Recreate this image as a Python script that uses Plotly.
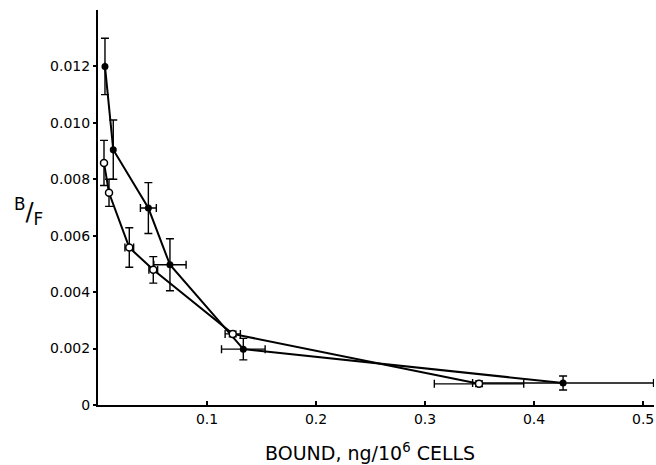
import plotly.graph_objects as go

# Closed circles series
closed_x = [0.0064, 0.014, 0.0462, 0.066, 0.1333, 0.4266]
closed_y = [0.0120, 0.00905, 0.00698, 0.00497, 0.00198, 0.00078]
closed_xerr = [0.0, 0.0, 0.0073, 0.0148, 0.020, 0.083]
closed_yerr = [0.0010, 0.00105, 0.0009, 0.00092, 0.00038, 0.00025]

# Open circles series
open_x = [0.0055, 0.0101, 0.0287, 0.0507, 0.1236, 0.3495]
open_y = [0.00858, 0.00752, 0.00558, 0.00479, 0.00252, 0.00075]
open_xerr = [0.0, 0.0, 0.004, 0.004, 0.007, 0.041]
open_yerr = [0.0008, 0.00048, 0.0007, 0.00047, 0.0001, 0.0001]

x_tickvals = [0.1, 0.2, 0.3, 0.4, 0.5]
x_ticktext = ["0.1", "0.2", "0.3", "0.4", "0.5"]
y_tickvals = [0, 0.002, 0.004, 0.006, 0.008, 0.010, 0.012]
y_ticktext = ["0", "0.002", "0.004", "0.006", "0.008", "0.010", "0.012"]

FONT = "DejaVu Sans"

fig = go.Figure()

def err(vals):
    return dict(type="data", array=vals, visible=True, color="black",
                thickness=1.4, width=4)

fig.add_trace(go.Scatter(
    x=closed_x, y=closed_y, mode="lines+markers",
    line=dict(color="black", width=2),
    marker=dict(symbol="circle", size=7, color="black"),
    error_x=err(closed_xerr), error_y=err(closed_yerr),
    showlegend=False))

fig.add_trace(go.Scatter(
    x=open_x, y=open_y, mode="lines+markers",
    line=dict(color="black", width=2),
    marker=dict(symbol="circle", size=7, color="white",
                line=dict(color="black", width=1.5)),
    error_x=err(open_xerr), error_y=err(open_yerr),
    showlegend=False))

fig.update_layout(
    width=656, height=465,
    margin=dict(l=98, r=2, t=10, b=60),
    paper_bgcolor="white", plot_bgcolor="white",
    font=dict(family=FONT, color="black", size=14),
    xaxis=dict(range=[0, 0.51], tickvals=x_tickvals, ticktext=x_ticktext,
               showgrid=False, zeroline=False, showline=True,
               linecolor="black", linewidth=2, ticks="inside",
               ticklen=4, tickcolor="black", tickwidth=1.5,
               automargin=False,
               tickfont=dict(size=14, family=FONT)),
    yaxis=dict(range=[0, 0.014], tickvals=y_tickvals, ticktext=y_ticktext,
               showgrid=False, zeroline=False, showline=True,
               linecolor="black", linewidth=2, ticks="outside",
               ticklen=3, tickcolor="black", tickwidth=1.5,
               automargin=False,
               tickfont=dict(size=14, family=FONT)),
    annotations=[
        dict(text="BOUND, ng/10<sup>6</sup> CELLS", xref="paper", yref="paper",
             x=0.49, y=-0.119, xanchor="center", yanchor="middle",
             showarrow=False, font=dict(size=19, family=FONT)),
        dict(text="<sup>B</sup>/<sub>F</sub>", xref="paper", yref="paper",
             x=-0.125, y=0.49, xanchor="center", yanchor="middle",
             showarrow=False, font=dict(size=24, family=FONT)),
    ],
)

fig.write_html("out.html", config={"displayModeBar": False},
               post_script="document.body.style.margin='0px';document.body.style.overflow='hidden';")
